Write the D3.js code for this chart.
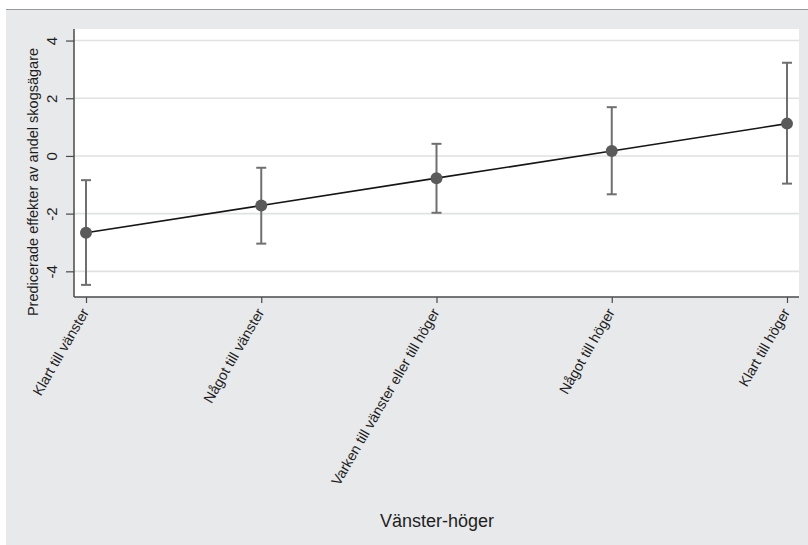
<!DOCTYPE html>
<html><head><meta charset="utf-8">
<script src="https://cdn.jsdelivr.net/npm/d3@7"></script>
<style>body{margin:0;background:#fff;} svg{display:block;font-family:"Liberation Sans",Arial,sans-serif;}</style>
</head><body>
<script>
const categories = ["Klart till vänster","Något till vänster","Varken till vänster eller till höger","Något till höger","Klart till höger"];
const estimates = [-2.66, -1.72, -0.77, 0.17, 1.12];
const lower = [-4.47, -3.04, -1.97, -1.33, -0.96];
const upper = [-0.84, -0.41, 0.42, 1.69, 3.23];
const yTicks = [-4, -2, 0, 2, 4];
const yTickLabels = ["-4", "-2", "0", "2", "4"];
const yTitle = "Predicerade effekter av andel skogsägare";
const xTitle = "Vänster-höger";

const W = 808, H = 545;
const svg = d3.select("body").append("svg").attr("width", W).attr("height", H);
svg.append("rect").attr("x",0).attr("y",0).attr("width",W).attr("height",H).attr("fill","#fff");
svg.append("rect").attr("x",6).attr("y",9).attr("width",W-6).attr("height",H-9).attr("fill","#e8e9eb");
svg.append("line").attr("x1",6).attr("x2",W).attr("y1",9.5).attr("y2",9.5).attr("stroke","#9a9a9a").attr("stroke-width",1);

const pl = 74, pr = 799, pt = 29, pb = 297;
svg.append("rect").attr("x",pl).attr("y",pt).attr("width",pr-pl).attr("height",pb-pt).attr("fill","#fff");

const x = d3.scalePoint().domain(categories).range([86, 787]);
const y = d3.scaleLinear().domain([-4.89, 4.4]).range([pb, pt]);

// gridlines
svg.append("g").selectAll("line").data(yTicks).join("line")
  .attr("x1",pl).attr("x2",pr).attr("y1",d=>y(d)).attr("y2",d=>y(d))
  .attr("stroke","#dfe1e3").attr("stroke-width",1.6);

// y axis
const yAxis = svg.append("g").attr("transform",`translate(${pl},0)`)
  .call(d3.axisLeft(y).tickValues(yTicks).tickSize(8).tickPadding(0).tickFormat((d,i)=>yTickLabels[i]));
yAxis.select(".domain").attr("stroke","#4a4a4a").attr("stroke-width",1.5).attr("d",`M0,${pt}V${pb}`);
yAxis.selectAll(".tick line").attr("stroke","#4a4a4a").attr("stroke-width",1.2);
yAxis.selectAll(".tick text").attr("x",null).attr("dy",null)
  .attr("transform","translate(-17.5,0) rotate(-90)").attr("text-anchor","middle")
  .attr("font-size",15).attr("fill","#1e1e1e").attr("font-family","Liberation Sans, Arial, sans-serif");

// x axis
const xAxis = svg.append("g").attr("transform",`translate(0,${pb})`)
  .call(d3.axisBottom(x).tickSize(6).tickPadding(0));
xAxis.select(".domain").attr("stroke","#4a4a4a").attr("stroke-width",1.5).attr("d",`M${pl},0H${pr}`);
xAxis.selectAll(".tick line").attr("stroke","#4a4a4a").attr("stroke-width",1.2);
xAxis.selectAll(".tick text").attr("y",null).attr("dy",null)
  .attr("transform","translate(3,15) rotate(-60)").attr("text-anchor","end")
  .attr("font-size",14.3).attr("fill","#1e1e1e").attr("font-family","Liberation Sans, Arial, sans-serif");

// error bars
const eb = svg.append("g").attr("stroke","#6f6f6f").attr("stroke-width",2).attr("fill","none");
categories.forEach((c,i)=>{
  eb.append("line").attr("x1",x(c)).attr("x2",x(c)).attr("y1",y(lower[i])).attr("y2",y(upper[i]));
  eb.append("line").attr("x1",x(c)-5).attr("x2",x(c)+5).attr("y1",y(lower[i])).attr("y2",y(lower[i]));
  eb.append("line").attr("x1",x(c)-5).attr("x2",x(c)+5).attr("y1",y(upper[i])).attr("y2",y(upper[i]));
});

// line
svg.append("path").datum(categories.map((c,i)=>[x(c),y(estimates[i])]))
  .attr("d",d3.line()).attr("fill","none").attr("stroke","#151515").attr("stroke-width",1.6);

// points
svg.append("g").selectAll("circle").data(categories).join("circle")
  .attr("cx",d=>x(d)).attr("cy",(d,i)=>y(estimates[i])).attr("r",6)
  .attr("fill","#5a5a5a");

// titles
svg.append("text").attr("transform","translate(38,182) rotate(-90)").attr("text-anchor","middle")
  .attr("font-size",14.5).attr("fill","#1e1e1e").text(yTitle);
svg.append("text").attr("x",437).attr("y",527).attr("text-anchor","middle")
  .attr("font-size",18).attr("fill","#1e1e1e").text(xTitle);
</script>
</body></html>
